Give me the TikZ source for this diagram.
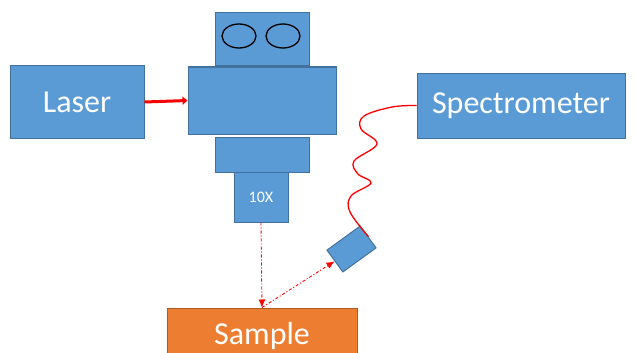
\documentclass[tikz,border=0pt]{standalone}
\usepackage{fontspec}
\setmainfont{Carlito}
\usetikzlibrary{arrows.meta,shapes.geometric}

\definecolor{partblue}{RGB}{91,155,213}
\definecolor{partedge}{RGB}{65,113,156}
\definecolor{sampleorange}{RGB}{237,125,49}
\definecolor{sampleedge}{RGB}{174,90,33}

\tikzset{
  part/.style={rectangle, draw=partedge, fill=partblue, line width=1pt, text=white, inner sep=0pt},
  bigpart/.style={part, font=\fontsize{32}{36}\selectfont},
  eye/.style={ellipse, draw=black, line width=1.3pt, inner sep=0pt, minimum width=34pt, minimum height=24pt},
  beam/.style={red, line width=0.9pt, dash pattern=on 3pt off 2pt on 1pt off 2pt, -{Latex[length=8pt,width=7pt]}},
}

\begin{document}
\begin{tikzpicture}[x=1pt, y=-1pt]
  \clip (0,0) rectangle (634,353);

  % microscope
  \node (ocular) [part, minimum width=94pt, minimum height=53pt] at (262, 39.5) {};
  \node (eyeL) [eye] at (239, 36) {};
  \node (eyeR) [eye] at (283, 36) {};
  \node (body) [part, minimum width=148pt, minimum height=67pt] at (262, 100.5) {};
  \node (turret) [part, minimum width=94pt, minimum height=35pt] at (262, 154.5) {};
  \node (obj) [part, minimum width=54pt, minimum height=50pt, font=\fontsize{16}{18}\selectfont] at (261, 197) {10X};

  \node (laser) [bigpart, minimum width=134pt, minimum height=72pt] at (77, 102) {Laser};
  \node (spec) [bigpart, minimum width=208pt, minimum height=65pt] at (521, 105.5) {Spectrometer};
  \node (probe) [part, minimum width=41pt, minimum height=27pt, rotate=36] at (351.5, 249) {};
  \node (sample) [rectangle, draw=sampleedge, fill=sampleorange, line width=1pt, text=white,
    minimum width=190pt, minimum height=55pt, font=\fontsize{32}{36}\selectfont] at (262, 335.5) {Sample};

  \draw[red, line width=3pt, -{Triangle[length=5pt,width=8pt]}] (laser.east) -- (body.west);

  % fibre to the spectrometer
  \draw[red, line width=1.3pt] plot[smooth, tension=0.6] coordinates {(spec.west) (392,107) (364,116)
    (361,129) (377,144) (354,161) (358,174) (371,183) (351,196) (350,212) (probe.east)};

  \draw[beam] (obj.south) -- (sample.north);
  \draw[beam] (sample.north) -- (probe.west);
\end{tikzpicture}
\end{document}
